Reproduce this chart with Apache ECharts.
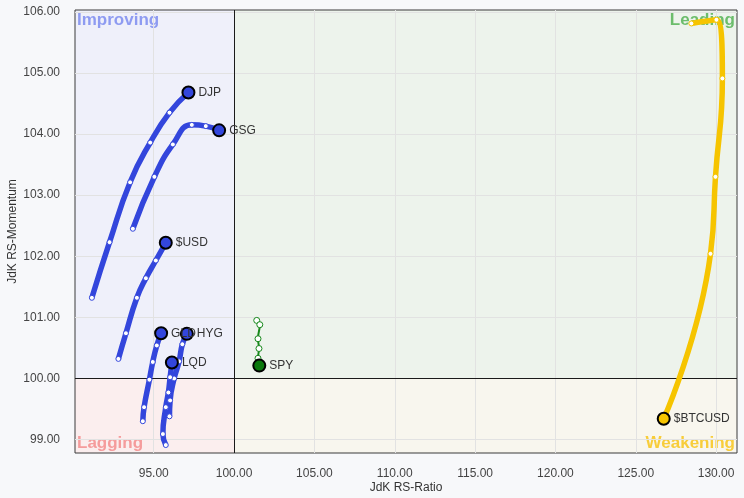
<!DOCTYPE html>
<html><head><meta charset="utf-8">
<script src="https://cdn.jsdelivr.net/npm/echarts@6/dist/echarts.min.js"></script>
<style>html,body{margin:0;padding:0;background:#f7f8fa}#c{width:744px;height:498px}</style>
</head><body><div id="c"></div>
<script>
// ---- axis ticks & ranges ----
const xTicks = [95, 100, 105, 110, 115, 120, 125, 130];
const yTicks = [99, 100, 101, 102, 103, 104, 105, 106];
const xRange = [90.1, 131.3];
const yRange = [98.78, 106.03];
const centerValue = 100;

// ---- tails: [RS-Ratio, RS-Momentum], oldest -> latest ----
const DJP    = [[91.15,101.32],[92.25,102.23],[93.53,103.21],[94.78,103.86],[95.98,104.35],[97.16,104.68]];
const GSG    = [[93.70,102.45],[95.04,103.30],[96.19,103.83],[97.37,104.15],[98.24,104.13],[99.07,104.06]];
const USD    = [[92.80,100.32],[93.27,100.74],[93.95,101.32],[94.51,101.64],[95.13,101.93],[95.75,102.22]];
const GLD    = [[94.32,99.30],[94.40,99.53],[94.73,99.98],[94.94,100.27],[95.19,100.54],[95.46,100.74]];
const HYG    = [[95.98,99.38],[96.02,99.64],[96.27,100.00],[96.58,100.28],[96.78,100.56],[97.06,100.73]];
const LQD    = [[95.75,98.91],[95.57,99.09],[95.75,99.53],[95.91,99.77],[96.02,100.02],[96.13,100.26]];
const SPY    = [[101.41,100.95],[101.60,100.88],[101.49,100.65],[101.55,100.49],[101.49,100.33],[101.57,100.21]];
const BTCUSD = [[128.46,105.81],[130.02,105.87],[130.39,104.91],[129.96,103.30],[129.65,102.04],[126.74,99.34]];

const tickers = ['DJP', 'GSG', '$USD', 'GLD', 'HYG', 'LQD', 'SPY', '$BTCUSD'];
const tails   = [DJP, GSG, USD, GLD, HYG, LQD, SPY, BTCUSD];
const quadNames = ['Improving', 'Leading', 'Lagging', 'Weakening'];

// ---- styles ----
const BLUE = '#3346dc', GREEN = '#16881a', GOLD = '#f6c400';
const tailStyle = [
  {c: BLUE, w: 5.5, dot: 5}, {c: BLUE, w: 5.5, dot: 5}, {c: BLUE, w: 5.5, dot: 5},
  {c: BLUE, w: 5.5, dot: 5}, {c: BLUE, w: 5.5, dot: 5}, {c: BLUE, w: 5.5, dot: 5},
  {c: GREEN, w: 2, dot: 6, end: '#0a780c'}, {c: GOLD, w: 5.5, dot: 5}
];
const quadStyle = [
  {bg: '#eff0fa', fg: '#8e9bf1', h: 'left',  v: 'top'},
  {bg: '#edf3ec', fg: '#6cbd6c', h: 'right', v: 'top'},
  {bg: '#fbeeee', fg: '#f59c9c', h: 'left',  v: 'bottom'},
  {bg: '#f8f6ee', fg: '#f8cd3a', h: 'right', v: 'bottom'}
];

const quadData = [
  [xRange[0], centerValue, centerValue, yRange[1]],
  [centerValue, centerValue, xRange[1], yRange[1]],
  [xRange[0], yRange[0], centerValue, centerValue],
  [centerValue, yRange[0], xRange[1], centerValue]
];
const centerData = [
  [centerValue, yRange[0], centerValue, yRange[1]],
  [xRange[0], centerValue, xRange[1], centerValue]
];

function renderQuad(params, api) {
  const i = params.dataIndex;
  const a = api.coord([api.value(0), api.value(3)]);
  const b = api.coord([api.value(2), api.value(1)]);
  const st = quadStyle[i];
  const left = st.h === 'left', top = st.v === 'top';
  return {type: 'group', children: [
    {type: 'rect', shape: {x: a[0], y: a[1], width: b[0] - a[0], height: b[1] - a[1]}, style: {fill: st.bg}},
    {type: 'text', x: left ? a[0] + 2 : b[0] - 2, y: top ? a[1] + 2 : b[1] - 1,
     style: {text: quadNames[i], fill: st.fg, font: 'bold 17px Arial',
             align: left ? 'left' : 'right', verticalAlign: top ? 'top' : 'bottom',
             textAlign: left ? 'left' : 'right', textVerticalAlign: top ? 'top' : 'bottom'}}
  ]};
}
function renderCenter(params, api) {
  const a = api.coord([api.value(0), api.value(1)]);
  const b = api.coord([api.value(2), api.value(3)]);
  const vertical = params.dataIndex === 0;
  const x1 = vertical ? Math.round(a[0]) + 0.5 : a[0];
  const x2 = vertical ? Math.round(b[0]) + 0.5 : b[0];
  const y1 = vertical ? a[1] : Math.round(a[1]) + 0.5;
  const y2 = vertical ? b[1] : Math.round(b[1]) + 0.5;
  return {type: 'line', shape: {x1, y1, x2, y2}, style: {stroke: '#1a1a1a', lineWidth: 1}};
}

function tailSeries(k) {
  const pts = tails[k], st = tailStyle[k], name = tickers[k], last = pts.length - 1;
  return {
    type: 'line', name, smooth: 0.5, z: 2, silent: true,
    lineStyle: {color: st.c, width: st.w},
    symbol: 'circle', symbolSize: st.dot,
    itemStyle: {color: '#ffffff', borderColor: st.c, borderWidth: 1},
    emphasis: {disabled: true},
    data: pts.map((p, j) => j === last ? {
      value: p, symbolSize: 12,
      itemStyle: {color: st.end || st.c, borderColor: '#000', borderWidth: 2},
      label: {show: true, position: 'right', distance: 3, formatter: name,
              color: '#333', fontSize: 12, fontFamily: 'Arial'}
    } : {value: p})
  };
}

const axisFont = {color: '#444', fontSize: 12, fontFamily: 'Arial'};
const option = {
  backgroundColor: '#f7f8fa',
  animation: false,
  grid: {left: 75, right: 7, top: 10, bottom: 45, show: true, backgroundColor: 'transparent',
         borderColor: '#3a3a3a', borderWidth: 1, outerBoundsMode: 'none', containLabel: false},
  xAxis: {
    type: 'value', min: xRange[0], max: xRange[1],
    name: 'JdK RS-Ratio', nameLocation: 'middle', nameGap: 29, nameMoveOverlap: false,
    nameTextStyle: {color: '#333', fontSize: 12, fontFamily: 'Arial'},
    axisLine: {show: false}, axisTick: {show: false, customValues: xTicks},
    axisLabel: Object.assign({customValues: xTicks, margin: 15, formatter: v => v.toFixed(2)}, axisFont),
    splitLine: {show: true, lineStyle: {color: '#e2e2e2', width: 1}}
  },
  yAxis: {
    type: 'value', min: yRange[0], max: yRange[1],
    name: 'JdK RS-Momentum', nameLocation: 'middle', nameGap: 56, nameMoveOverlap: false,
    nameTextStyle: {color: '#333', fontSize: 12, fontFamily: 'Arial'},
    axisLine: {show: false}, axisTick: {show: false, customValues: yTicks},
    axisLabel: Object.assign({customValues: yTicks, margin: 15, formatter: v => v.toFixed(2)}, axisFont),
    splitLine: {show: true, lineStyle: {color: '#e2e2e2', width: 1}}
  },
  series: [
    {type: 'custom', z: -1, silent: true, renderItem: renderQuad, data: quadData,
     encode: {x: [0, 2], y: [1, 3]}},
    {type: 'custom', z: 1, silent: true, renderItem: renderCenter, data: centerData,
     encode: {x: [0, 2], y: [1, 3]}}
  ].concat(tails.map((_, k) => tailSeries(k)))
};
const chart = echarts.init(document.getElementById('c'), null, {renderer: 'canvas'});
chart.setOption(option);
</script></body></html>
